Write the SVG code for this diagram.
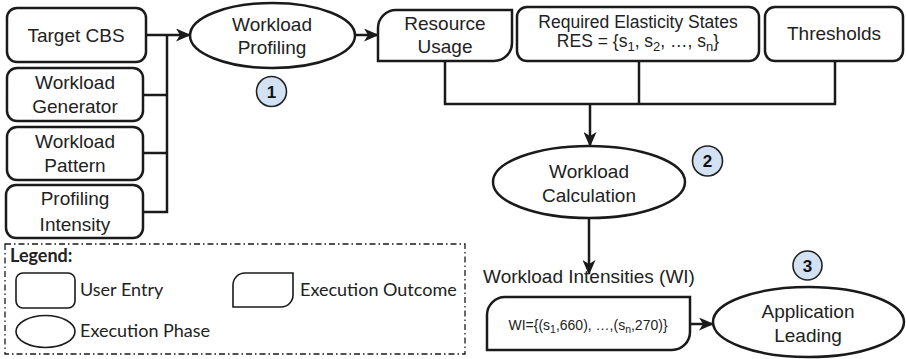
<svg xmlns="http://www.w3.org/2000/svg" width="906" height="359" viewBox="0 0 906 359">
<style>
  .box{fill:#fff;stroke:#1a1a1a;stroke-width:2.5}
  .lbox{fill:#fff;stroke:#1a1a1a;stroke-width:1.6}
  .t{font-family:"Liberation Sans",Arial,sans-serif;font-size:19px;fill:#222;text-anchor:middle}
  .ts{font-family:"Liberation Sans",Arial,sans-serif;font-size:17.5px;fill:#222;text-anchor:middle}
  .tw{font-family:"Liberation Sans",Arial,sans-serif;font-size:14px;fill:#222;text-anchor:middle}
  .lg{font-family:Lato,"Open Sans",sans-serif;font-size:18px;fill:#222}
  .num{fill:#d2e2f2;stroke:#222;stroke-width:1.6}
  .nt{font-family:"Liberation Sans",Arial,sans-serif;font-size:17px;font-weight:bold;fill:#111;text-anchor:middle}
  .c{fill:none;stroke:#1a1a1a;stroke-width:2.5}
</style>
<defs>
  <marker id="ah" viewBox="0 0 15 13" refX="14" refY="6.5" markerWidth="15" markerHeight="13" markerUnits="userSpaceOnUse" orient="auto">
    <path d="M0,0 L15,6.5 L0,13 L4,6.5 Z" fill="#1a1a1a"/>
  </marker>
</defs>

<g id="connectors">
  <path class="c" d="M146,35 H190" marker-end="url(#ah)"/>
  <path class="c" d="M167,35 V212 H143"/>
  <path class="c" d="M143,95 H167"/>
  <path class="c" d="M143,153 H167"/>
  <path class="c" d="M355,35 H378" marker-end="url(#ah)"/>
  <path class="c" d="M445,61 V104 H835 V61"/>
  <path class="c" d="M639,61 V104"/>
  <path class="c" d="M590,104 V146" marker-end="url(#ah)"/>
  <path class="c" d="M589,218 V274" marker-end="url(#ah)"/>
  <path class="c" d="M690,324 H713" marker-end="url(#ah)"/>
</g>

<g id="target-cbs">
  <rect class="box" x="7" y="8" width="139" height="54" rx="10"/>
  <text class="t" x="76" y="42">Target CBS</text>
</g>
<g id="workload-generator">
  <rect class="box" x="7" y="68" width="136" height="53" rx="10"/>
  <text class="t" x="75" y="89">Workload</text>
  <text class="t" x="75" y="113">Generator</text>
</g>
<g id="workload-pattern">
  <rect class="box" x="7" y="127" width="136" height="53" rx="10"/>
  <text class="t" x="75" y="148">Workload</text>
  <text class="t" x="75" y="172">Pattern</text>
</g>
<g id="profiling-intensity">
  <rect class="box" x="6" y="185" width="137" height="53" rx="10"/>
  <text class="t" x="75" y="205">Profiling</text>
  <text class="t" x="75" y="231">Intensity</text>
</g>

<g id="workload-profiling">
  <ellipse class="box" cx="272.5" cy="35.5" rx="82.5" ry="32.5"/>
  <text class="t" x="272" y="31">Workload</text>
  <text class="t" x="272" y="54">Profiling</text>
</g>
<g id="step1">
  <circle class="num" cx="271.5" cy="91.5" r="15"/>
  <text class="nt" x="271.5" y="97.5">1</text>
</g>

<g id="resource-usage">
  <path class="box" d="M396,10 H512 V43 A18,18 0 0 1 494,61 H378 V28 A18,18 0 0 1 396,10 Z"/>
  <text class="t" x="445" y="30">Resource</text>
  <text class="t" x="445" y="53">Usage</text>
</g>

<g id="required-elasticity-states">
  <rect class="box" x="517" y="7" width="242" height="54" rx="10"/>
  <text class="ts" x="638" y="28">Required Elasticity States</text>
  <text class="ts" x="638" y="47">RES = {s<tspan font-size="13" dy="4">1</tspan><tspan dy="-4">, s</tspan><tspan font-size="13" dy="4">2</tspan><tspan dy="-4">, …, s</tspan><tspan font-size="13" dy="4">n</tspan><tspan dy="-4">}</tspan></text>
</g>

<g id="thresholds">
  <rect class="box" x="765" y="7" width="138" height="54" rx="10"/>
  <text class="t" x="834" y="40">Thresholds</text>
</g>

<g id="workload-calculation">
  <ellipse class="box" cx="589" cy="182" rx="96" ry="36"/>
  <text class="t" x="589" y="178">Workload</text>
  <text class="t" x="589" y="202">Calculation</text>
</g>
<g id="step2">
  <circle class="num" cx="707.5" cy="161" r="15"/>
  <text class="nt" x="707.5" y="167">2</text>
</g>

<g id="workload-intensities">
  <text class="t" x="589" y="283">Workload Intensities (WI)</text>
  <path class="box" d="M505,297 H690 V332 A18,18 0 0 1 672,350 H487 V315 A18,18 0 0 1 505,297 Z"/>
  <text class="tw" x="588" y="330">WI={(s<tspan font-size="10.5" dy="3">1</tspan><tspan dy="-3">,660), …,(s</tspan><tspan font-size="10.5" dy="3">n</tspan><tspan dy="-3">,270)}</tspan></text>
</g>

<g id="application-leading">
  <ellipse class="box" cx="808.5" cy="322" rx="95.5" ry="35"/>
  <text class="t" x="808" y="318">Application</text>
  <text class="t" x="808" y="342">Leading</text>
</g>
<g id="step3">
  <circle class="num" cx="807.5" cy="265.5" r="14.5"/>
  <text class="nt" x="807.5" y="271.5">3</text>
</g>

<g id="legend">
  <rect x="5" y="244" width="460" height="110" fill="none" stroke="#1a1a1a" stroke-width="1.3" stroke-dasharray="6,3,1.5,3"/>
  <text class="lg" x="10" y="262" font-weight="bold">Legend:</text>
  <rect class="lbox" x="16" y="273" width="59" height="35" rx="7"/>
  <text class="lg" x="80" y="296">User Entry</text>
  <path class="lbox" d="M245,273 H293 V295 A12,12 0 0 1 281,307 H233 V285 A12,12 0 0 1 245,273 Z"/>
  <text class="lg" x="300" y="296">Execution Outcome</text>
  <ellipse class="lbox" cx="45.5" cy="331.5" rx="29.5" ry="16"/>
  <text class="lg" x="80" y="337">Execution Phase</text>
</g>
</svg>
